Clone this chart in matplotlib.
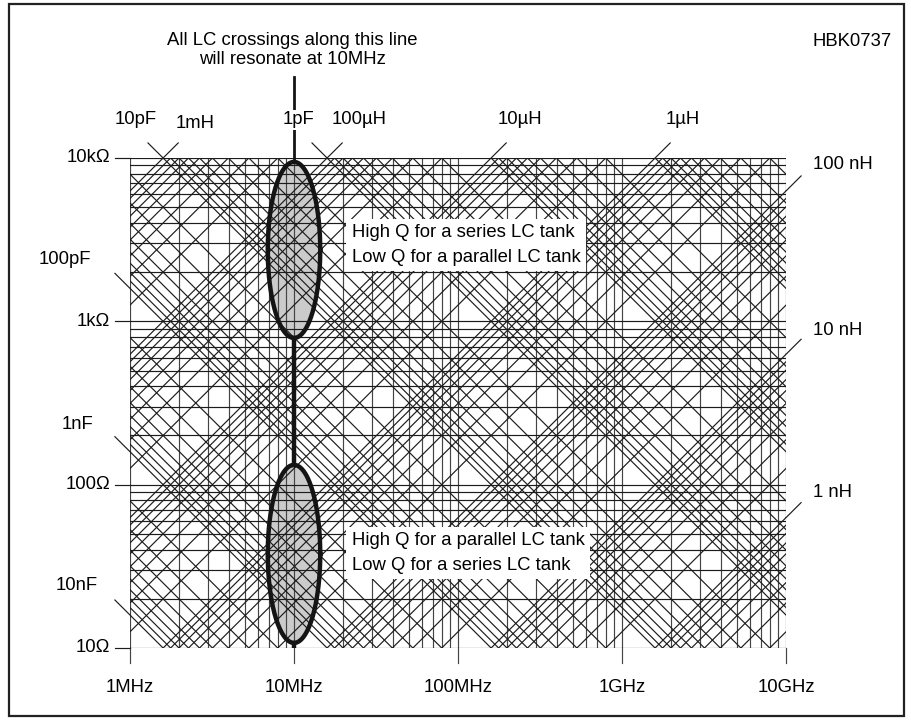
import numpy as np
import matplotlib
matplotlib.use('Agg')
import matplotlib.pyplot as plt
from matplotlib.patches import Rectangle

plt.rcParams['font.family'] = ['Liberation Sans', 'DejaVu Sans']

# --- donnees du diagramme ---
freq_major = [1e6, 1e7, 1e8, 1e9, 1e10]
freq_labels = ['1MHz', '10MHz', '100MHz', '1GHz', '10GHz']
ohm_major = [10, 100, 1e3, 1e4]
ohm_labels = ['10Ω', '100Ω', '1kΩ', '10kΩ']
multipliers = [1, 2, 3, 4, 5, 6, 7, 8, 9]
cap_decades = list(range(-16, -7))   # 0.1fF .. 10nF
ind_decades = list(range(-11, -2))   # 10pH .. 1mH

cap_top_values = [10e-12, 1e-12]
cap_top_labels = ['10pF', '1pF']
cap_left_values = [100e-12, 1e-9, 10e-9]
cap_left_labels = ['100pF', '1nF', '10nF']
ind_top_values = [1e-3, 100e-6, 10e-6, 1e-6]
ind_top_labels = ['1mH', '100µH', '10µH', '1µH']
ind_right_values = [100e-9, 10e-9, 1e-9]
ind_right_labels = ['100 nH', '10 nH', '1 nH']

f_res = 1e7  # 10 MHz
f_min, f_max = 1e6, 1e10
x_min, x_max = 10, 1e4

# --- mise en page ---
W, H = 912, 720
FS = 13.3
fig = plt.figure(figsize=(W / 100, H / 100), dpi=100)
ax = fig.add_axes([130 / W, 72 / H, 656 / W, 490 / H])
ax.set_xscale('log')
ax.set_yscale('log')
ax.set_xlim(f_min, f_max)
ax.set_ylim(x_min, x_max)
ax.axis('off')

grid_kw = dict(color='#1c1c1c', lw=0.85)
vert_kw = dict(color='#444444', lw=0.85)
d = 0.092  # longueur des traits hors grille (decades)

# grille verticale / horizontale
freqs = [k * 10.0 ** n for n in range(6, 10) for k in multipliers] + [f_max]
ohms = [k * 10.0 ** n for n in range(1, 4) for k in multipliers] + [x_max]
for f in freqs:
    ax.plot([f, f], [x_min, x_max], zorder=2, **vert_kw)
for x in ohms:
    ax.plot([f_min, f_max], [x, x], zorder=2, **grid_kw)
# traits majeurs prolonges
for f in freq_major:
    ax.plot([f, f], [x_min * 10 ** (-d), x_min], clip_on=False, **vert_kw)
for x in ohm_major:
    ax.plot([f_min * 10 ** (-d), f_min], [x, x], clip_on=False, **grid_kw)

# diagonales : reactance capacitive et inductive
fs = np.array([f_min, f_max])
for n in cap_decades:
    for k in multipliers:
        C = k * 10.0 ** n
        ax.plot(fs, 1 / (2 * np.pi * fs * C), zorder=2, **grid_kw)
for n in ind_decades:
    for k in multipliers:
        L = k * 10.0 ** n
        ax.plot(fs, 2 * np.pi * fs * L, zorder=2, **grid_kw)

# etiquettes des axes
for f, lab in zip(freq_major, freq_labels):
    ax.annotate(lab, xy=(f, x_min), xytext=(0, -40), textcoords='offset pixels',
                ha='center', va='center', fontsize=FS, annotation_clip=False)
for x, lab in zip(ohm_major, ohm_labels):
    ax.annotate(lab, xy=(f_min, x), xytext=(-20, 0), textcoords='offset pixels',
                ha='right', va='center', fontsize=FS, annotation_clip=False)

# composants reperes avec traits de rappel
def leader(p0, p1, lab, off, ha):
    ax.plot([p0[0], p1[0]], [p0[1], p1[1]], clip_on=False, **grid_kw)
    ax.annotate(lab, xy=p1, xytext=off, textcoords='offset pixels',
                ha=ha, va='center', fontsize=FS, annotation_clip=False,
                bbox=dict(facecolor='white', edgecolor='none', pad=1), zorder=6)

cap_top_off = [(-12, 23), (-14, 23)]
for C, lab, off in zip(cap_top_values, cap_top_labels, cap_top_off):
    f0 = 1 / (2 * np.pi * x_max * C)
    leader((f0, x_max), (f0 * 10 ** (-d), x_max * 10 ** d), lab, off, 'center')

ind_top_off = [(17, 19), (17, 23), (14, 23), (13, 23)]
for L, lab, off in zip(ind_top_values, ind_top_labels, ind_top_off):
    f0 = x_max / (2 * np.pi * L)
    leader((f0, x_max), (f0 * 10 ** d, x_max * 10 ** d), lab, off, 'center')

cap_left_off = [(-24, 14), (-22, 12), (-17, 15)]
for C, lab, off in zip(cap_left_values, cap_left_labels, cap_left_off):
    x0 = 1 / (2 * np.pi * f_min * C)
    leader((f_min, x0), (f_min * 10 ** (-d), x0 * 10 ** d), lab, off, 'right')

ind_right_off = [(12, 11), (12, 9), (12, 10)]
for L, lab, off in zip(ind_right_values, ind_right_labels, ind_right_off):
    x0 = 2 * np.pi * f_max * L
    leader((f_max, x0), (f_max * 10 ** d, x0 * 10 ** d), lab, off, 'left')

# ellipses sur la ligne de resonance 10 MHz
t = np.linspace(0, 2 * np.pi, 300)
ellipses = [(3.437, 0.539), (1.576, 0.545)]
for yc, b in ellipses:
    ex = 10 ** (np.log10(f_res) + 0.16 * np.cos(t))
    ey = 10 ** (yc + b * np.sin(t))
    ax.fill(ex, ey, color='#cbcbcb', lw=0, zorder=1)
    ax.plot(ex, ey, color='#141414', lw=3.2, zorder=4, solid_joinstyle='round')

# ligne de resonance
(yc1, b1), (yc2, b2) = ellipses
ax.plot([f_res, f_res], [10 ** 4.497, 10 ** (yc1 + b1)], color='#141414', lw=2.0,
        clip_on=False, zorder=4)
ax.plot([f_res, f_res], [10 ** (yc1 - b1), 10 ** (yc2 + b2)], color='#141414', lw=3.2, zorder=4)
ax.plot([f_res, f_res], [10 ** (yc2 - b2), x_min], color='#141414', lw=3.2, zorder=4)

# textes
fig.text(292 / W, 1 - 50 / H, 'All LC crossings along this line\nwill resonate at 10MHz',
         ha='center', va='center', fontsize=FS, linespacing=1.2)
fig.text(852 / W, 1 - 42 / H, 'HBK0737', ha='center', va='center', fontsize=FS)

box = dict(facecolor='white', edgecolor='none', pad=4)
fig.text(352 / W, 1 - 245 / H, 'High Q for a series LC tank\nLow Q for a parallel LC tank',
         ha='left', va='center', fontsize=FS, linespacing=1.6, bbox=box, zorder=5)
fig.text(352 / W, 1 - 553 / H, 'High Q for a parallel LC tank\nLow Q for a series LC tank',
         ha='left', va='center', fontsize=FS, linespacing=1.6, bbox=box, zorder=5)

# cadre exterieur
fig.patches.append(Rectangle((9 / W, 4 / H), 895 / W, 712 / H, transform=fig.transFigure,
                             fill=False, edgecolor='#222222', lw=1.6))

plt.savefig('out.png', dpi=100)
